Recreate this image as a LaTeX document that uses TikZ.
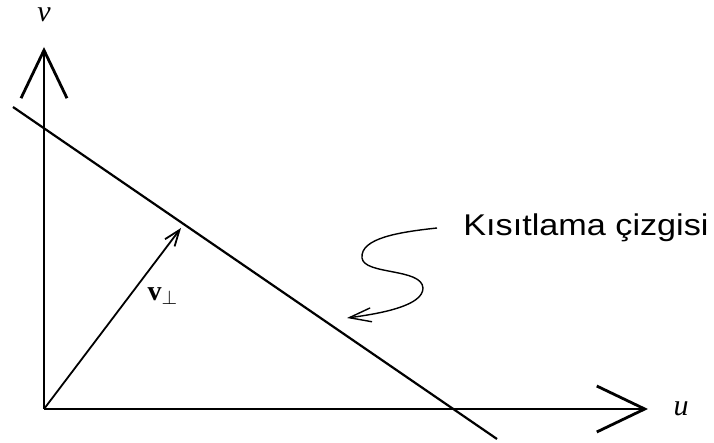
\documentclass[tikz,border=0pt]{standalone}
\usepackage{fontspec}
\setmainfont{Liberation Serif}
\newfontfamily\notefont{Liberation Sans}
\usetikzlibrary{arrows.meta, positioning, calc}

\begin{document}
\begin{tikzpicture}[
    x=0.5pt, y=-0.5pt,
    axis/.style={line width=1.4pt, -{Straight Barb[length=24pt, width=23pt, line width=1.4pt]}},
    limit/.style={line width=1.1pt},
    vec/.style={line width=0.9pt, -{Straight Barb[length=8pt, width=6pt, line width=0.9pt]}},
    curly/.style={line width=0.7pt, -{Straight Barb[length=11pt, width=7pt, line width=0.7pt]}},
    axlabel/.style={font=\fontsize{15}{17}\selectfont\itshape, inner sep=0pt},
    note/.style={font=\fontsize{15}{18}\notefont, inner sep=0pt, anchor=west}
  ]
    \useasboundingbox (0,0) rectangle (714,443);
    % axes
    \coordinate (o) at (44,409);
    \coordinate (vtip) at (44,47);
    \coordinate (utip) at (648,409);
    \draw[axis] (o) -- (vtip);
    \draw[axis] (o) -- (utip);
    \node[axlabel] (vlbl) at (44,15) {v};
    \node[axlabel] (ulbl) at (681,409) {u};
    % constraint line
    \coordinate (c1) at (13,107);
    \coordinate (c2) at (497,439);
    \draw[limit] (c1) -- (c2);
    % perpendicular vector
    \coordinate (p) at (181,228);
    \draw[vec] (o) -- (p);
    \node[inner sep=0pt, font=\fontsize{14}{16}\selectfont] (plbl) at (163,296) {\textbf{v}$_\perp$};
    % note with curly pointer
    \node[note] (lbl) at (463,228) {\scalebox{1.14}[1]{Kısıtlama çizgisi}};
    \coordinate (s) at (437,228);
    \coordinate (e) at (347,318);
    \draw[curly] (s) .. controls (400,232) and (360,238) .. (362,258)
                     .. controls (364,275) and (422,268) .. (423,288)
                     .. controls (423,305) and (385,313) .. (e);
\end{tikzpicture}
\end{document}
